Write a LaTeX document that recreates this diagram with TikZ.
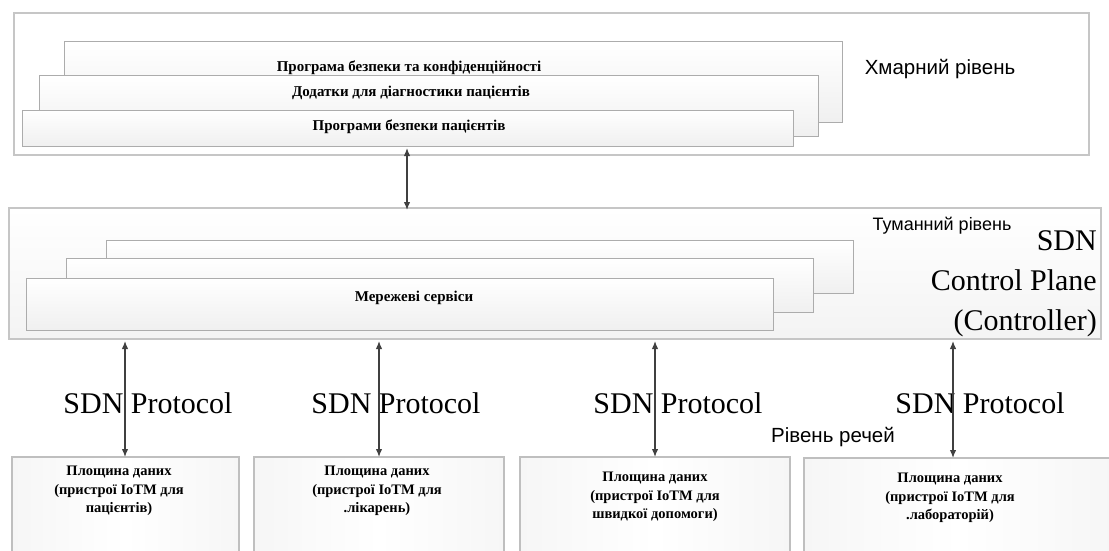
\documentclass[tikz,border=0pt]{standalone}
\usepackage{fontspec}
\setmainfont{Liberation Serif}
\newfontfamily\labelsans{Liberation Sans}
\usetikzlibrary{arrows.meta}
\begin{document}
\begin{tikzpicture}[x=1pt,y=-1pt,
  frame/.style={anchor=north west, inner sep=0pt, outer sep=0pt, draw=gray!45, line width=1.2pt},
  cloudframe/.style={frame, fill=white},
  fogframe/.style={frame, top color=white, bottom color=gray!9},
  layer/.style={anchor=north west, inner sep=0pt, outer sep=0pt, draw=gray!65, line width=1pt, top color=white, bottom color=gray!12},
  devbox/.style={anchor=north west, inner sep=0pt, outer sep=0pt, draw=gray!50, line width=1.1pt, left color=gray!7, right color=gray!7, middle color=white},
  boxtext/.style={inner sep=0pt, font=\bfseries\fontsize{15}{17}\selectfont},
  devtext/.style={inner sep=0pt, align=center, font=\bfseries\fontsize{14.5}{18.5}\selectfont},
  levellbl/.style={inner sep=0pt, font=\labelsans\fontsize{20.5}{22}\selectfont},
  proto/.style={inner sep=0pt, font=\fontsize{30}{36}\selectfont},
  arr/.style={{Latex[length=8pt,width=6.5pt]}-{Latex[length=8pt,width=6.5pt]}, draw=black!75, line width=1.3pt}
]
\useasboundingbox (0,0) rectangle (1109,551);
\clip (0,0) rectangle (1109,551);
\fill[white] (0,0) rectangle (1109,551);

% Cloud layer
\node[cloudframe, minimum width=1075pt, minimum height=142pt] (cloud) at (14,13) {};
\node[layer, minimum width=778pt, minimum height=80pt] (c1) at (64,42) {};
\node[layer, minimum width=779pt, minimum height=60pt] (c2) at (39,76) {};
\node[layer, minimum width=771pt, minimum height=36pt] (c3) at (22,110) {};
\node[boxtext] (t1) at (409,68) {Програма безпеки та конфіденційності};
\node[boxtext] (t2) at (411,93) {Додатки для діагностики пацієнтів};
\node[boxtext] (t3) at (409,127) {Програми безпеки пацієнтів};
\node[levellbl] (cloudlbl) at (940,69) {Хмарний рівень};

% Fog layer
\node[fogframe, minimum width=1092pt, minimum height=131pt] (fog) at (9,208) {};
\node[layer, minimum width=747pt, minimum height=53pt] (f1) at (106,240) {};
\node[layer, minimum width=747pt, minimum height=54pt] (f2) at (66,258) {};
\node[layer, minimum width=747pt, minimum height=52pt] (f3) at (26,278) {};
\node[boxtext] (t4) at (414,298) {Мережеві сервіси};
\node[inner sep=0pt, font=\labelsans\fontsize{18}{20}\selectfont] (foglbl) at (942,226) {Туманний рівень};
\node[inner sep=0pt, anchor=east, align=right, font=\fontsize{30}{40}\selectfont] (ctrl) at (1097,284) {SDN\\Control Plane\\(Controller)};

% Things layer
\node[devbox, minimum width=227pt, minimum height=110pt] (b1) at (12,457) {};
\node[devbox, minimum width=250pt, minimum height=110pt] (b2) at (254,457) {};
\node[devbox, minimum width=270pt, minimum height=110pt] (b3) at (520,457) {};
\node[devbox, minimum width=310pt, minimum height=110pt] (b4) at (804,458) {};
\node[devtext] (d1) at (119,491) {Площина даних\\(пристрої IoTM для\\пацієнтів)};
\node[devtext] (d2) at (377,491) {Площина даних\\(пристрої IoTM для\\.лікарень)};
\node[devtext] (d3) at (655,497) {Площина даних\\(пристрої IoTM для\\швидкої допомоги)};
\node[devtext] (d4) at (950,498) {Площина даних\\(пристрої IoTM для\\.лабораторій)};
\node[levellbl] (thingslbl) at (833,437) {Рівень речей};

\node[proto] (p1) at (148,403) {SDN Protocol};
\node[proto] (p2) at (396,403) {SDN Protocol};
\node[proto] (p3) at (678,403) {SDN Protocol};
\node[proto] (p4) at (980,403) {SDN Protocol};

% Connectors
\coordinate (xa) at (407,0);
\coordinate (x1) at (125,0);
\coordinate (x2) at (379,0);
\coordinate (x3) at (655,0);
\coordinate (x4) at (953,0);
\draw[arr, shorten <=2pt, shorten >=-2pt] (c3.south -| xa) -- (fog.north -| xa);
\draw[arr, shorten <=2pt] (fog.south -| x1) -- (b1.north -| x1);
\draw[arr, shorten <=2pt] (fog.south -| x2) -- (b2.north -| x2);
\draw[arr, shorten <=2pt] (fog.south -| x3) -- (b3.north -| x3);
\draw[arr, shorten <=2pt] (fog.south -| x4) -- (b4.north -| x4);
\end{tikzpicture}
\end{document}
